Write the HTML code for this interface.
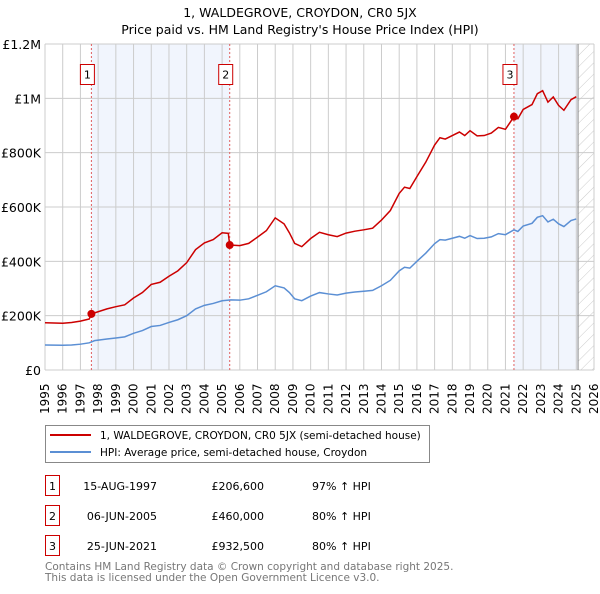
<!DOCTYPE html>
<html><head><meta charset="utf-8"><style>
body{margin:0;background:#fff;font-family:"DejaVu Sans","Liberation Sans",sans-serif;}
svg text{font-family:"DejaVu Sans","Liberation Sans",sans-serif;}
</style></head><body>
<svg id="chart" width="600" height="590" xmlns="http://www.w3.org/2000/svg">
<defs><pattern id="hatch" patternUnits="userSpaceOnUse" width="8" height="8" patternTransform="rotate(45)"><line x1="0" y1="0" x2="0" y2="8" stroke="#ccc" stroke-width="1"/></pattern></defs>
<text x="300" y="17" text-anchor="middle" font-size="12.5">1, WALDEGROVE, CROYDON, CR0 5JX</text>
<text x="300" y="34" text-anchor="middle" font-size="12.5">Price paid vs. HM Land Registry's House Price Index (HPI)</text>
<g id="plot"></g>
<g>
<rect x="45.5" y="425.5" width="384" height="37" fill="#fff" stroke="#888"/>
<line x1="50" y1="435" x2="91" y2="435" stroke="#cc0000" stroke-width="2"/>
<text x="100" y="439" font-size="10.5">1, WALDEGROVE, CROYDON, CR0 5JX (semi-detached house)</text>
<line x1="50" y1="452" x2="91" y2="452" stroke="#5b8fd4" stroke-width="2"/>
<text x="100" y="456" font-size="10.5">HPI: Average price, semi-detached house, Croydon</text>
</g>
<g id="table"></g>
<text x="45" y="570" font-size="10.5" fill="#777">Contains HM Land Registry data © Crown copyright and database right 2025.</text>
<text x="45" y="581" font-size="10.5" fill="#777">This data is licensed under the Open Government Licence v3.0.</text>
</svg>
<script>
const hpiYears=[1995,1996,1996.5,1997,1997.5,1997.8,1998.5,1999,1999.5,2000,2000.5,2001,2001.5,2002,2002.5,2003,2003.5,2004,2004.5,2005,2005.5,2006,2006.5,2007,2007.5,2008,2008.5,2008.8,2009.1,2009.5,2010,2010.5,2011,2011.5,2012,2012.5,2013,2013.5,2014,2014.5,2015,2015.3,2015.6,2016,2016.5,2017,2017.3,2017.6,2018,2018.4,2018.7,2019,2019.4,2019.8,2020.2,2020.6,2021,2021.48,2021.7,2022,2022.5,2022.8,2023.1,2023.4,2023.7,2024,2024.3,2024.7,2025];
const hpiValues=[92,91,92,95,100,108,114,118,122,135,145,160,164,175,185,200,225,238,245,255,258,257,262,275,288,310,302,285,262,255,272,285,280,276,283,287,290,293,310,330,365,378,375,400,430,465,480,478,485,492,485,495,484,485,490,502,498,516,510,530,540,562,568,545,555,538,528,550,556];
const redYears=[1995,1996,1996.5,1997,1997.5,1997.62,1998.5,1999,1999.5,2000,2000.5,2001,2001.5,2002,2002.5,2003,2003.5,2004,2004.5,2005,2005.35,2005.43,2006,2006.5,2007,2007.5,2008,2008.5,2008.8,2009.1,2009.5,2010,2010.5,2011,2011.5,2012,2012.5,2013,2013.5,2014,2014.5,2015,2015.3,2015.6,2016,2016.5,2017,2017.3,2017.6,2018,2018.4,2018.7,2019,2019.4,2019.8,2020.2,2020.6,2021,2021.48,2021.7,2022,2022.5,2022.8,2023.1,2023.4,2023.7,2024,2024.3,2024.7,2025];
const redValues=[174,172,175,180,188,206.6,225,233,240,265,285,315,323,345,365,395,443,468,480,505,503,460,458,466,489,513,560,538,505,466,454,484,507,498,491,504,511,516,522,552,587,650,673,668,712,765,828,855,850,863,876,863,881,862,863,872,893,886,932.5,925,959,977,1017,1028,986,1005,974,956,995,1006];
const saleYears=[1997.62,2005.43,2021.48];
const saleValues=[206.6,460,932.5];
const saleLabels=["1","2","3"];
const saleDates=["15-AUG-1997","06-JUN-2005","25-JUN-2021"];
const salePrices=["£206,600","£460,000","£932,500"];
const saleHpi=["97% ↑ HPI","80% ↑ HPI","80% ↑ HPI"];
const yTicks=[0,200,400,600,800,1000,1200];
const yTickLabels=["£0","£200K","£400K","£600K","£800K","£1M","£1.2M"];
const xMin=1995,xMax=2026,dataEnd=2025.1;

const L=45,R=594,T=44,B=370;
const xs=y=>L+(y-xMin)/(xMax-xMin)*(R-L);
const ys=v=>B-v/1200*(B-T);
const NS="http://www.w3.org/2000/svg";
const g=document.getElementById('plot');
function mk(tag,attrs,parent){const e=document.createElementNS(NS,tag);for(const k in attrs)e.setAttribute(k,attrs[k]);(parent||g).appendChild(e);return e;}

let e;
e=mk('rect',{x:xs(saleYears[0]),y:T,width:xs(saleYears[1])-xs(saleYears[0]),height:B-T,fill:'#eef3fc',opacity:0.8});


e=mk('rect',{x:xs(saleYears[2]),y:T,width:xs(dataEnd)-xs(saleYears[2]),height:B-T,fill:'#eef3fc',opacity:0.8});


e=mk('rect',{x:xs(dataEnd),y:T,width:R-xs(dataEnd),height:B-T,fill:'url(#hatch)'});


for(let yr=xMin;yr<=xMax;yr++){
  e=mk('line',{x1:xs(yr),x2:xs(yr),y1:T,y2:B,stroke:'#cccccc','stroke-width':1});
  
  
  e=mk('text',{transform:`translate(${xs(yr)+4},${B+44}) rotate(-90)`,'font-size':12});
  e.textContent=String(yr);
  
  
}
yTicks.forEach((v,i)=>{
  e=mk('line',{x1:L,x2:R,y1:ys(v),y2:ys(v),stroke:'#cccccc','stroke-width':1});
  
  
  e=mk('text',{x:L-4,y:ys(v)+5,'text-anchor':'end','font-size':12.5});
  e.textContent=yTickLabels[i];
  
  
});
e=mk('line',{x1:xs(dataEnd),x2:xs(dataEnd),y1:T,y2:B,stroke:'#888','stroke-width':1});


saleYears.forEach((yr,i)=>{
  e=mk('line',{x1:xs(yr),x2:xs(yr),y1:T,y2:B,stroke:'#e06060','stroke-width':1,'stroke-dasharray':'2,2'});
  
  
});
e=mk('polyline',{points:hpiYears.map((y,i)=>xs(y)+','+ys(hpiValues[i])).join(' '),fill:'none',stroke:'#5b8fd4','stroke-width':1.5});


e=mk('polyline',{points:redYears.map((y,i)=>xs(y)+','+ys(redValues[i])).join(' '),fill:'none',stroke:'#cc0000','stroke-width':1.5});


saleYears.forEach((yr,i)=>{
  e=mk('circle',{cx:xs(yr),cy:ys(saleValues[i]),r:4,fill:'#cc0000'});
  
  
  e=mk('rect',{x:xs(yr)-11,y:64.5,width:14,height:20,fill:'#fff',stroke:'#cc0000'});
  
  
  e=mk('text',{x:xs(yr)-4,y:78.5,'text-anchor':'middle','font-size':11});
  e.textContent=saleLabels[i];
  
  
});
const tb=document.getElementById('table');
saleLabels.forEach((lab,i)=>{
  const y0=475.5+i*30;
  e=mk('rect',{x:45.5,y:y0,width:14,height:20,fill:'#fff',stroke:'#cc0000'},tb);
  
  
  e=mk('text',{x:52.5,y:y0+14.5,'text-anchor':'middle','font-size':11},tb);
  e.textContent=lab;
  
  
  e=mk('text',{x:157,y:y0+14.5,'text-anchor':'end','font-size':11},tb);
  e.textContent=saleDates[i];
  
  
  e=mk('text',{x:264,y:y0+14.5,'text-anchor':'end','font-size':11},tb);
  e.textContent=salePrices[i];
  
  
  e=mk('text',{x:312,y:y0+14.5,'font-size':11},tb);
  e.textContent=saleHpi[i];
  
  
});
</script>
</body></html>
